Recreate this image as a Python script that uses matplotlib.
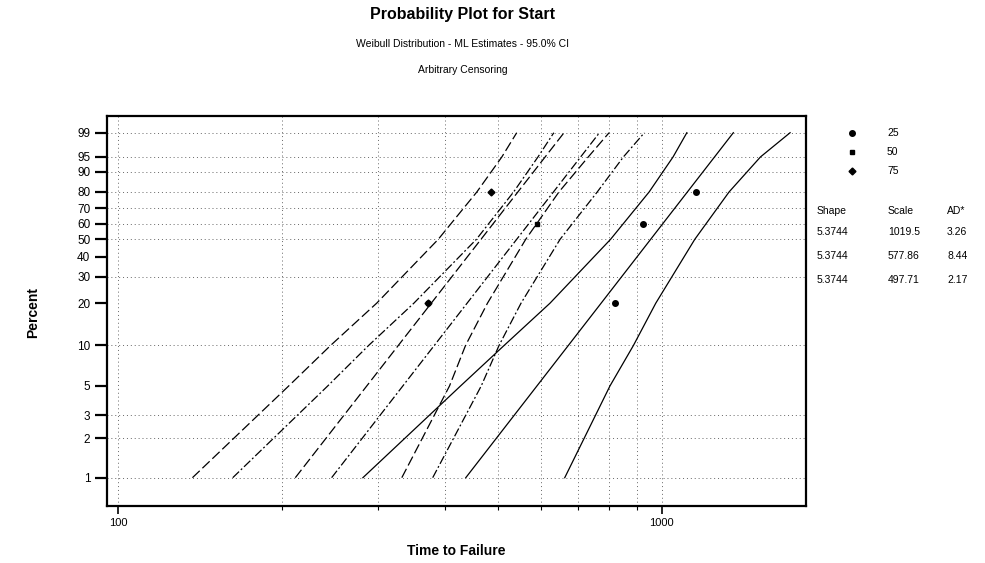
import numpy as np
import matplotlib
matplotlib.use('Agg')
import matplotlib.pyplot as plt
from matplotlib.ticker import FixedLocator, NullFormatter

plt.rcParams['font.family'] = ['Liberation Sans', 'DejaVu Sans']

# percent levels at which the confidence bounds were read
pct = [1, 5, 10, 20, 50, 80, 95, 99]
pct_fit = [1, 99]

# group 25
lo25 = [282, 426.5, 513, 623, 805, 948, 1049, 1112]
fit25 = [436, 1354]
hi25 = [663, 803, 887, 975, 1150, 1330, 1519, 1722]
# group 50
lo50 = [162.5, 243, 289, 350, 456, 534, 592, 633]
fit50 = [247, 768]
hi50 = [379, 465.5, 502, 551, 650, 761, 850, 929]
# group 75
lo75 = [137, 206, 246, 299, 388, 457, 508, 541]
fit75 = [211.8, 661]
hi75 = [332.5, 407, 435.6, 478, 562, 647, 732.5, 800]

# plotted points
pts25_t = [819, 923, 1155]
pts25_p = [20, 60, 80]
pts50_t = [372, 589]
pts50_p = [20, 60]
pts75_t = [372, 485]
pts75_p = [20, 80]

groups = ['25', '50', '75']
shape = ['5.3744', '5.3744', '5.3744']
scale = ['1019.5', '577.86', '497.71']
ad = ['3.26', '8.44', '2.17']

y_ticks = [1, 2, 3, 5, 10, 20, 30, 40, 50, 60, 70, 80, 90, 95, 99]
y_grid = [1, 2, 3, 10, 30, 50, 60, 70, 80, 90, 95, 99]
x_grid = [100, 200, 300, 400, 500, 600, 700, 800, 900, 1000]


def fwd(p):
    p = np.clip(np.asarray(p, dtype=float), 1e-9, 100 - 1e-9)
    return np.log(-np.log(1 - p / 100.0))


def inv(w):
    return 100.0 * (1 - np.exp(-np.exp(np.asarray(w, dtype=float))))


W, H = 985, 563
fig = plt.figure(figsize=(W / 100, H / 100), dpi=100)
L, R, T, B = 107, 806, 116, 506
ax = fig.add_axes([L / W, 1 - B / H, (R - L) / W, (B - T) / H])
ax.set_xscale('log')
ax.set_yscale('function', functions=(fwd, inv))
ax.set_xlim(95.4, 1842)
ax.set_ylim(0.606, 99.7965)

# grid
for g in y_grid:
    ax.axhline(g, color='#666666', lw=0.7, ls=(0, (1, 3)), zorder=1)
for g in x_grid:
    ax.axvline(g, color='#666666', lw=0.7, ls=(0, (1, 3)), zorder=1)

# fit lines and confidence bounds
styles = {'25': '-', '50': (0, (7, 2, 1.5, 2)), '75': (0, (8, 3))}
for grp, lo, fit, hi in [('25', lo25, fit25, hi25), ('50', lo50, fit50, hi50),
                         ('75', lo75, fit75, hi75)]:
    ls = styles[grp]
    ax.plot(lo, pct, color='black', lw=0.9, ls=ls, zorder=3)
    ax.plot(fit, pct_fit, color='black', lw=0.9, ls=ls, zorder=3)
    ax.plot(hi, pct, color='black', lw=0.9, ls=ls, zorder=3)

ax.plot(pts25_t, pts25_p, 'o', color='black', ms=4, zorder=4)
ax.plot(pts50_t, pts50_p, 's', color='black', ms=3.5, zorder=4)
ax.plot(pts75_t, pts75_p, 'D', color='black', ms=3.5, zorder=4)

# axes styling
for s in ax.spines.values():
    s.set_linewidth(1.6)
ax.yaxis.set_major_locator(FixedLocator(y_ticks))
ax.yaxis.set_minor_locator(FixedLocator([]))
ax.set_yticklabels([str(v) for v in y_ticks])
ax.set_xticks([100, 1000])
ax.set_xticklabels(['100', '1000'])
ax.xaxis.set_minor_locator(FixedLocator([200, 300, 400, 500, 600, 700, 800, 900]))
ax.xaxis.set_minor_formatter(NullFormatter())
ax.tick_params(axis='y', length=9, width=1.6, labelsize=8.5, pad=3)
ax.tick_params(axis='x', which='major', length=6, width=1.2, labelsize=8, pad=3)
ax.tick_params(axis='x', which='minor', length=3, width=0.8)

ax.set_xlabel('Time to Failure', fontsize=10, fontweight='bold', labelpad=11)
fig.text(33 / W, 1 - 313 / H, 'Percent', rotation=90, fontsize=10, fontweight='bold',
         ha='center', va='center')

fig.text(463 / W, 1 - 14 / H, 'Probability Plot for Start', fontsize=11.5, fontweight='bold',
         ha='center', va='center')
fig.text(463 / W, 1 - 44 / H, 'Weibull Distribution - ML Estimates - 95.0% CI', fontsize=7.5,
         ha='center', va='center')
fig.text(463 / W, 1 - 70 / H, 'Arbitrary Censoring', fontsize=7.5, ha='center', va='center')

# legend on the right
for i, (grp, mk, ms) in enumerate(zip(groups, ['o', 's', 'D'], [4, 3.5, 3.5])):
    y = 1 - (133 + 19 * i) / H
    fig.lines.append(plt.Line2D([852 / W], [y], marker=mk, ms=ms, color='black',
                                transform=fig.transFigure))
    fig.text(887 / W, y, grp, fontsize=7.5, va='center', ha='left')

cols = [(817, 'Shape', shape), (888, 'Scale', scale), (947, 'AD*', ad)]
for x, head, vals in cols:
    fig.text(x / W, 1 - 211 / H, head, fontsize=7.5, va='center', ha='left')
    for j, v in enumerate(vals):
        fig.text(x / W, 1 - (232 + 24 * j) / H, v, fontsize=7.5, va='center', ha='left')

fig.savefig('out.png', dpi=100)
